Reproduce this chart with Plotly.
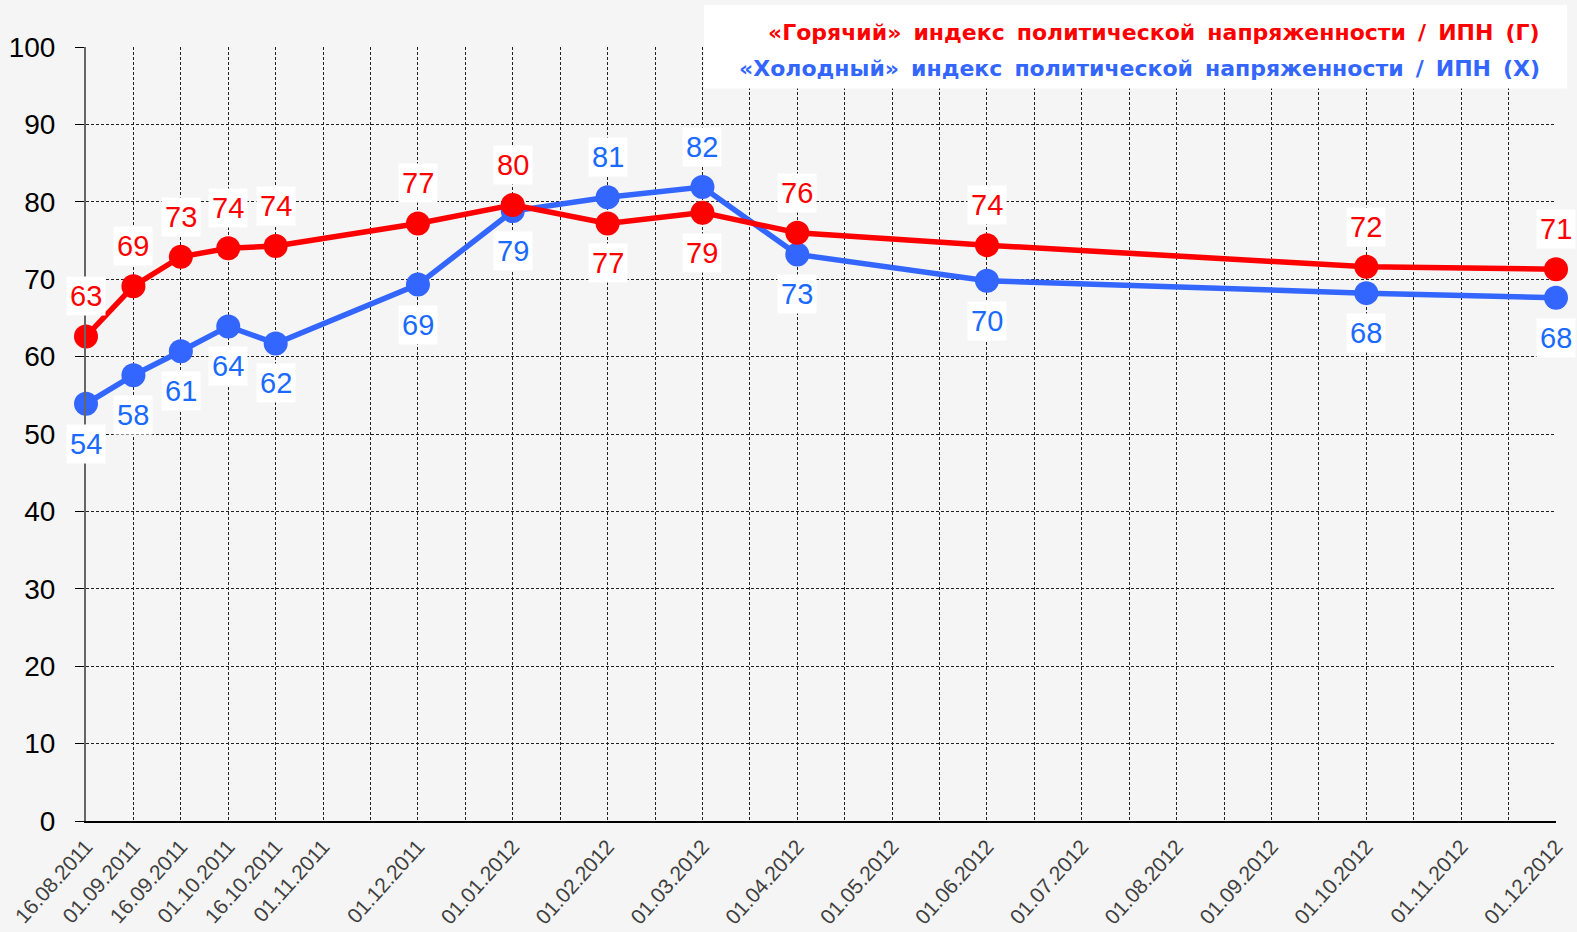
import plotly.graph_objects as go

# ---- data ----
dates = ["16.08.2011", "01.09.2011", "16.09.2011", "01.10.2011", "16.10.2011",
         "01.12.2011", "01.01.2012", "01.02.2012", "01.03.2012", "01.04.2012",
         "01.06.2012", "01.10.2012", "01.12.2012"]
hot = [62.6, 69.1, 72.9, 74.0, 74.3, 77.2, 79.6, 77.2, 78.6, 76.0, 74.4, 71.6, 71.3]
cold = [53.9, 57.6, 60.7, 63.9, 61.7, 69.3, 78.8, 80.6, 81.9, 73.2, 69.8, 68.2, 67.6]
hot_label_pos = ["above"] * 7 + ["below", "below"] + ["above"] * 4
cold_label_pos = ["below"] * 7 + ["above", "above"] + ["below"] * 4

tick_labels = ["16.08.2011", "01.09.2011", "16.09.2011", "01.10.2011", "16.10.2011",
               "01.11.2011", "", "01.12.2011", "", "01.01.2012", "", "01.02.2012", "",
               "01.03.2012", "", "01.04.2012", "", "01.05.2012", "", "01.06.2012", "",
               "01.07.2012", "", "01.08.2012", "", "01.09.2012", "", "01.10.2012", "",
               "01.11.2012", "", "01.12.2012"]

hot_name = "«Горячий» индекс политической напряженности / ИПН (Г)"
cold_name = "«Холодный» индекс политической напряженности / ИПН (Х)"


def half_month_index(s):
    d, m, y = (int(p) for p in s.split("."))
    return (y * 12 + m) * 2 + (1 if d >= 16 else 0) - ((2011 * 12 + 8) * 2 + 1)


x = [half_month_index(s) for s in dates]

RED = "#ff0000"
BLUE_LINE = "#3366ff"
BLUE_TXT = "#1a6aff"
BG = "#f5f5f5"

fig = go.Figure()
fig.add_trace(go.Scatter(x=x, y=cold, mode="lines+markers", name=cold_name,
                         line=dict(color=BLUE_LINE, width=5.5),
                         marker=dict(color=BLUE_LINE, size=24), cliponaxis=False))
fig.add_trace(go.Scatter(x=x, y=hot, mode="lines+markers", name=hot_name,
                         line=dict(color=RED, width=5.5),
                         marker=dict(color=RED, size=24), cliponaxis=False))

anns = []
for xs, vals, pos, col in [(x, hot, hot_label_pos, RED), (x, cold, cold_label_pos, BLUE_TXT)]:
    for xi, v, p in zip(xs, vals, pos):
        anns.append(dict(x=xi, y=v, text=f"{v:.0f}", showarrow=False,
                         yshift=40 if p == "above" else -40,
                         font=dict(family="Liberation Sans, Arial", size=29, color=col),
                         bgcolor="white", borderpad=3))

gap = " \u2009"
anns.append(dict(xref="paper", yref="paper", x=0.9905, y=1.0191, xanchor="right",
                 yanchor="middle", showarrow=False, text=hot_name.replace(" ", gap),
                 font=dict(family="DejaVu Sans", size=22, color=RED, weight="bold")))
anns.append(dict(xref="paper", yref="paper", x=0.9905, y=0.9724, xanchor="right",
                 yanchor="middle", showarrow=False, text=cold_name.replace(" ", gap),
                 font=dict(family="DejaVu Sans", size=22, color=BLUE_LINE, weight="bold")))

fig.update_layout(
    width=1577, height=932,
    margin=dict(l=86, r=21, t=47, b=111, autoexpand=False),
    paper_bgcolor=BG, plot_bgcolor=BG,
    showlegend=False,
    annotations=anns,
    shapes=[dict(type="rect", xref="paper", yref="paper", x0=0.4204, x1=1.0075,
                 y0=0.9464, y1=1.0543, fillcolor="white", line=dict(width=0), layer="above")],
    xaxis=dict(range=[0, 31], tickmode="array", tickvals=list(range(len(tick_labels))),
               ticktext=tick_labels, tickangle=-48, showgrid=True, gridcolor="#222",
               griddash="3px,2px", gridwidth=1, showline=True, linecolor="black", linewidth=2,
               zeroline=False, ticks="", ticklabelstandoff=3, automargin=False,
               tickfont=dict(family="Liberation Sans, Arial", size=21, color="#404040")),
    yaxis=dict(range=[0, 100], dtick=10, showgrid=True, gridcolor="#222",
               griddash="3px,2px", gridwidth=1, showline=True, linecolor="#666", linewidth=2,
               zeroline=False, ticks="outside", ticklen=9, tickcolor="black",
               ticklabelstandoff=14, automargin=False,
               tickfont=dict(family="Liberation Sans, Arial", size=28, color="black")),
)

fig.write_html("out.html", config={"displayModeBar": False}, post_script=(
    "document.body.style.margin='0';document.body.style.overflow='hidden';"
    "document.body.style.background='" + BG + "';"))
